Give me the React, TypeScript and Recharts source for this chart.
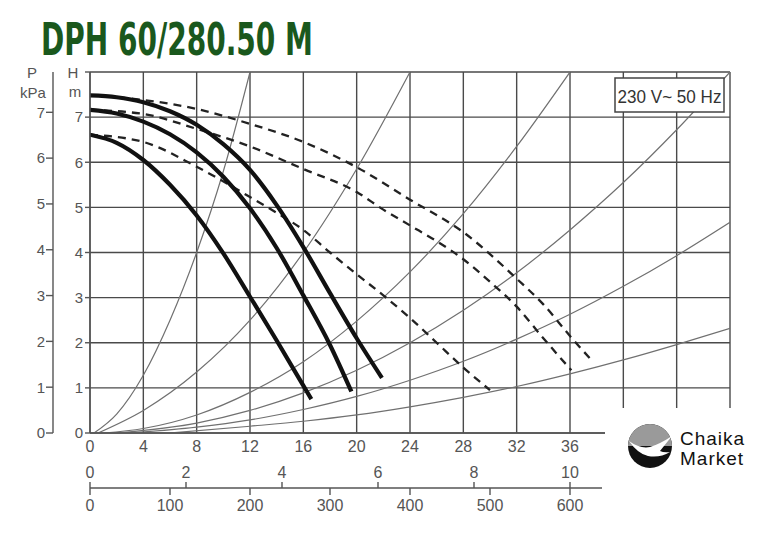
import { LineChart, Line, XAxis, YAxis, CartesianGrid, ReferenceLine } from 'recharts';

// flow Q in m3/h, head H in m
const xTicks = [0, 4, 8, 12, 16, 20, 24, 28, 32, 36, 40, 44, 48];
const hTicks = [0, 1, 2, 3, 4, 5, 6, 7, 8];
const pTicks = [0, 1, 2, 3, 4, 5, 6, 7];
const lsTicks = [0, 2, 4, 6, 8, 10]; // l/s
const lminTicks = [0, 100, 200, 300, 400, 500, 600]; // l/min

// pump curves, 3 speeds
const speed3 = [
  { q: 0, h: 7.48 }, { q: 2, h: 7.44 }, { q: 4, h: 7.33 }, { q: 6, h: 7.13 },
  { q: 8, h: 6.83 }, { q: 10, h: 6.4 }, { q: 12, h: 5.83 }, { q: 14, h: 5.05 },
  { q: 16, h: 4.12 }, { q: 18, h: 3.1 }, { q: 20, h: 2.1 }, { q: 21.9, h: 1.22 },
];
const speed2 = [
  { q: 0, h: 7.16 }, { q: 2, h: 7.08 }, { q: 4, h: 6.9 }, { q: 6, h: 6.62 },
  { q: 8, h: 6.22 }, { q: 10, h: 5.68 }, { q: 12, h: 4.98 }, { q: 14, h: 4.1 },
  { q: 16, h: 3.05 }, { q: 18, h: 1.95 }, { q: 19.6, h: 0.92 },
];
const speed1 = [
  { q: 0, h: 6.61 }, { q: 2, h: 6.43 }, { q: 4, h: 6.05 }, { q: 6, h: 5.5 },
  { q: 8, h: 4.82 }, { q: 10, h: 3.98 }, { q: 12, h: 3.02 }, { q: 14, h: 2.05 },
  { q: 16, h: 1.05 }, { q: 16.6, h: 0.75 },
];

// dashed curves
const dash3 = [
  { q: 0, h: 7.48 }, { q: 4, h: 7.38 }, { q: 8, h: 7.18 }, { q: 12, h: 6.85 },
  { q: 16, h: 6.45 }, { q: 20, h: 5.89 }, { q: 24, h: 5.17 }, { q: 28, h: 4.45 },
  { q: 32, h: 3.42 }, { q: 34, h: 2.85 }, { q: 36, h: 2.15 }, { q: 37.5, h: 1.65 },
];
const dash2 = [
  { q: 0, h: 7.16 }, { q: 4, h: 7.07 }, { q: 8, h: 6.74 }, { q: 12, h: 6.35 },
  { q: 16, h: 5.85 }, { q: 20, h: 5.34 }, { q: 22, h: 4.95 }, { q: 24, h: 4.6 },
  { q: 26, h: 4.25 }, { q: 28, h: 3.85 }, { q: 30, h: 3.35 }, { q: 32, h: 2.8 },
  { q: 34, h: 2.1 }, { q: 36.1, h: 1.39 },
];
const dash1 = [
  { q: 0, h: 6.61 }, { q: 4, h: 6.45 }, { q: 8, h: 5.9 }, { q: 12, h: 5.23 },
  { q: 14, h: 4.88 }, { q: 16, h: 4.5 }, { q: 18, h: 4.0 }, { q: 20, h: 3.52 },
  { q: 22, h: 3.05 }, { q: 24, h: 2.55 }, { q: 26, h: 2.0 }, { q: 28, h: 1.45 },
  { q: 30, h: 0.95 },
];

// system curves (thin)
const sysA = [
  { q: 0.3, h: 0 }, { q: 2, h: 0.42 }, { q: 4, h: 1.28 }, { q: 6, h: 2.5 },
  { q: 8, h: 4.0 }, { q: 10, h: 5.8 }, { q: 12, h: 8 },
];
const sysB = [
  { q: 0.6, h: 0 }, { q: 4, h: 0.5 }, { q: 8, h: 1.35 }, { q: 12, h: 2.5 },
  { q: 16, h: 4.0 }, { q: 20, h: 5.85 }, { q: 24, h: 8 },
];
const sysC = [
  { q: 1, h: 0 }, { q: 4, h: 0.1 }, { q: 8, h: 0.4 }, { q: 12, h: 0.9 },
  { q: 16, h: 1.58 }, { q: 20, h: 2.48 }, { q: 24, h: 3.57 }, { q: 28, h: 4.86 },
  { q: 32, h: 6.35 }, { q: 36, h: 8 },
];
const sysD = [
  { q: 2, h: 0 }, { q: 8, h: 0.22 }, { q: 12, h: 0.5 }, { q: 16, h: 0.89 },
  { q: 20, h: 1.39 }, { q: 24, h: 2.0 }, { q: 28, h: 2.72 }, { q: 32, h: 3.55 },
  { q: 36, h: 4.5 }, { q: 40, h: 5.55 }, { q: 44, h: 6.72 }, { q: 48, h: 8 },
];
const sysE = [
  { q: 3, h: 0 }, { q: 8, h: 0.13 }, { q: 12, h: 0.29 }, { q: 16, h: 0.52 },
  { q: 20, h: 0.81 }, { q: 24, h: 1.17 }, { q: 28, h: 1.59 }, { q: 32, h: 2.08 },
  { q: 36, h: 2.63 }, { q: 40, h: 3.25 }, { q: 44, h: 3.93 }, { q: 48, h: 4.67 },
];
const sysF = [
  { q: 6, h: 0 }, { q: 12, h: 0.15 }, { q: 16, h: 0.26 }, { q: 20, h: 0.4 },
  { q: 24, h: 0.58 }, { q: 28, h: 0.79 }, { q: 32, h: 1.03 }, { q: 36, h: 1.31 },
  { q: 40, h: 1.62 }, { q: 44, h: 1.96 }, { q: 48, h: 2.32 },
];

const systemCurves = [sysA, sysB, sysC, sysD, sysE, sysF];
const dashedCurves = [dash3, dash2, dash1];
const solidCurves = [speed3, speed2, speed1];

const font = "'Liberation Sans', Arial, sans-serif";
const gray = '#555';

// secondary flow scales sit below the plot, in head units below zero
const scaleY = -1.219;
const lsTickTop = -1.086;
const lminTickBottom = -1.374;
const scaleEnd = 38.4;

export default function App() {
  return (
    <div style={{ position: 'relative', width: 771, height: 525, background: '#fff' }}>
      <LineChart width={771} height={525} margin={{ top: 64, right: 49, left: 25, bottom: 70 }}>
        <CartesianGrid xAxisId="q" yAxisId="h" stroke="#4a4a4a" strokeWidth={1.4} />
        <XAxis
          xAxisId="q" dataKey="q" type="number" domain={[0, 48]} ticks={xTicks}
          allowDataOverflow height={30} tickLine={false} axisLine={{ stroke: gray, strokeWidth: 1.4 }}
          tick={{ fontSize: 16, fill: gray, fontFamily: font }}
          tickFormatter={(v: number) => (v > 36 ? '' : String(v))}
        />
        <YAxis
          yAxisId="h" type="number" domain={[0, 8]} ticks={hTicks} allowDataOverflow width={37}
          axisLine={{ stroke: gray, strokeWidth: 1.4 }} tickLine={{ stroke: gray, strokeWidth: 1.4 }}
          tickSize={5} tick={{ fontSize: 15, fill: gray, fontFamily: font }}
          tickFormatter={(v: number) => (v === 8 ? '' : String(v))}
        />
        <YAxis
          yAxisId="p" type="number" domain={[0, 7.88]} ticks={pTicks} allowDataOverflow width={20}
          axisLine={{ stroke: gray, strokeWidth: 1.4 }} tickLine={{ stroke: gray, strokeWidth: 1.4 }}
          tickSize={7} tickMargin={1} tick={{ fontSize: 15, fill: gray, fontFamily: font }}
        />

        {systemCurves.map((d, i) => (
          <Line key={'s' + i} xAxisId="q" yAxisId="h" data={d} dataKey="h" type="monotone"
            stroke="#707070" strokeWidth={1.2} dot={false} isAnimationActive={false} />
        ))}
        {dashedCurves.map((d, i) => (
          <Line key={'d' + i} xAxisId="q" yAxisId="h" data={d} dataKey="h" type="monotone"
            stroke="#222" strokeWidth={2.3} strokeDasharray="8 6" dot={false} isAnimationActive={false} />
        ))}
        {solidCurves.map((d, i) => (
          <Line key={'c' + i} xAxisId="q" yAxisId="h" data={d} dataKey="h" type="monotone"
            stroke="#111" strokeWidth={4.2} dot={false} isAnimationActive={false} />
        ))}

        <ReferenceLine xAxisId="q" yAxisId="h" ifOverflow="visible"
          segment={[{ x: 0, y: scaleY }, { x: scaleEnd, y: scaleY }]} stroke={gray} strokeWidth={1.4} />
        {lsTicks.map((v) => (
          <ReferenceLine key={'ls' + v} xAxisId="q" yAxisId="h" ifOverflow="visible"
            segment={[{ x: v * 3.6, y: scaleY }, { x: v * 3.6, y: lsTickTop }]}
            stroke={gray} strokeWidth={1.4}
            label={{ value: String(v), position: 'top', offset: 4, fontSize: 16, fill: gray, fontFamily: font }} />
        ))}
        {lminTicks.map((v) => (
          <ReferenceLine key={'lm' + v} xAxisId="q" yAxisId="h" ifOverflow="visible"
            segment={[{ x: v * 0.06, y: scaleY }, { x: v * 0.06, y: lminTickBottom }]}
            stroke={gray} strokeWidth={1.4}
            label={{ value: String(v), position: 'bottom', offset: 5, fontSize: 16, fill: gray, fontFamily: font }} />
        ))}
      </LineChart>
      <svg width={771} height={525} style={{ position: 'absolute', left: 0, top: 0, pointerEvents: 'none' }}>
        <g transform="translate(-8,-8)" fontFamily={font}>
          <text x={41} y={55} fontSize={44} fontWeight="bold" fill="#1a581d" textLength={272}
            lengthAdjust="spacingAndGlyphs"
            fontFamily="'Liberation Sans Narrow','DejaVu Sans Condensed','Roboto',sans-serif">
            DPH 60/280.50 M
          </text>
          <text x={32} y={78} fontSize={15} fill={gray} textAnchor="middle">P</text>
          <text x={33} y={98} fontSize={15} fill={gray} textAnchor="middle">kPa</text>
          <text x={73} y={78} fontSize={15} fill={gray} textAnchor="middle">H</text>
          <text x={75} y={97} fontSize={15} fill={gray} textAnchor="middle">m</text>
          <rect x={615} y={78} width={109} height={34} fill="#fff" stroke="#444" strokeWidth={1.5} />
          <text x={669.5} y={103} fontSize={18} fill="#333" textAnchor="middle" textLength={104}
            lengthAdjust="spacingAndGlyphs">230 V~ 50 Hz</text>
          <rect x={605} y={408} width={174} height={125} fill="#fff" />
          <circle cx={650} cy={446} r={22} fill="#111" />
          <path d="M 628 446 A 22 22 0 0 1 672 446 Z" fill="#9a9a9a" />
          <path d="M 629 441 Q 640 449 650 447 Q 660 444 672 436 Q 664 446 660 451 Q 664 453 670 452 Q 660 458 648 456 Q 638 454 629 441 Z"
            fill="#fff" />
          <text x={680} y={445} fontSize={19} fill="#111" letterSpacing={1}>Chaika</text>
          <text x={680} y={465} fontSize={19} fill="#111" letterSpacing={1}>Market</text>
        </g>
      </svg>
    </div>
  );
}
